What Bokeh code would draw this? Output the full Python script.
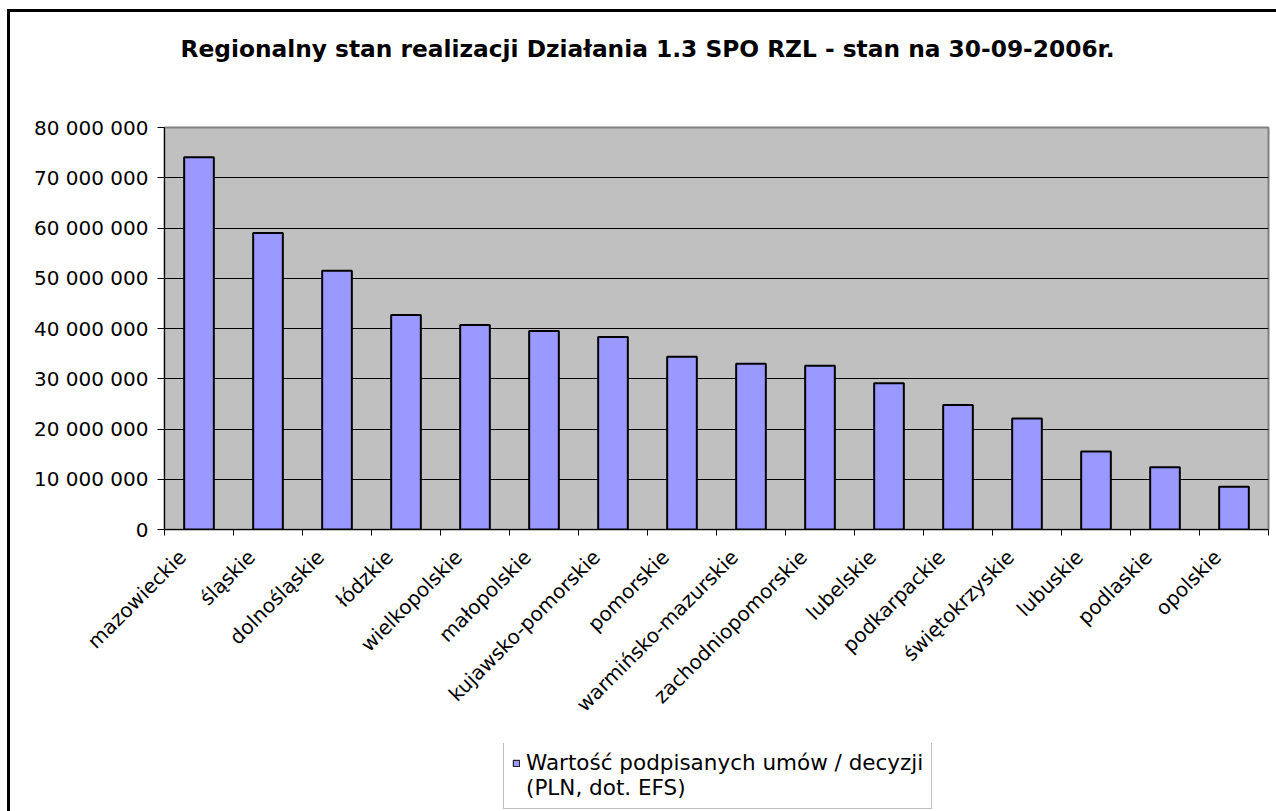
from bokeh.plotting import figure
from bokeh.layouts import column
from bokeh.models import Range1d, FixedTicker, Legend, LegendItem, ColumnDataSource, Title
from bokeh.embed import file_html
from bokeh.resources import INLINE
import math

title_text = "Regionalny stan realizacji Działania 1.3 SPO RZL - stan na 30-09-2006r."

categories = ["mazowieckie", "śląskie", "dolnośląskie", "łódzkie", "wielkopolskie",
              "małopolskie", "kujawsko-pomorskie", "pomorskie", "warmińsko-mazurskie",
              "zachodniopomorskie", "lubelskie", "podkarpackie", "świętokrzyskie",
              "lubuskie", "podlaskie", "opolskie"]

values = [74100000, 59000000, 51500000, 42700000, 40700000, 39500000, 38300000,
          34400000, 33000000, 32600000, 29100000, 24800000, 22100000, 15500000,
          12400000, 8500000]

y_ticks = [0, 10000000, 20000000, 30000000, 40000000, 50000000, 60000000, 70000000, 80000000]
y_tick_labels = ["0", "10 000 000", "20 000 000", "30 000 000", "40 000 000",
                 "50 000 000", "60 000 000", "70 000 000", "80 000 000"]

series_label = ["Wartość podpisanych umów / decyzji", "(PLN, dot. EFS)"]

FONT = "DejaVu Sans"
BAR_COLOR = "#9999FF"

n = len(categories)
centers = [i + 0.5 for i in range(n)]
label_pos = [c - 0.24 for c in centers]
bounds = [float(i) for i in range(n + 1)]

src = ColumnDataSource(dict(x=centers, top=values, name=categories))

# ---------------- main chart ----------------
p = figure(width=1266, height=731, output_backend="svg", toolbar_location=None,
           title=None,
           x_range=Range1d(0, n), y_range=Range1d(y_ticks[0], y_ticks[-1]),
           min_border_left=154, min_border_right=8, min_border_top=115,
           min_border_bottom=214)

p.background_fill_color = "#C0C0C0"
p.border_fill_color = "#FFFFFF"
p.outline_line_color = "#808080"
p.outline_line_width = 2

# spacer between frame and title, then the title itself (further out)
spacer = Title(text=" ", text_font=FONT, text_font_size="55px", standoff=0)
p.add_layout(spacer, "above")
title = Title(text=title_text, text_font=FONT, text_font_style="bold",
              text_font_size="23.3px", text_color="#000000",
              align="left", offset=16, standoff=0)
p.add_layout(title, "above")

bars = p.vbar(x="x", top="top", bottom=0, width=0.43, source=src,
              fill_color=BAR_COLOR, line_color="#000000", line_width=2)

# x axis
xa = p.xaxis[0]
xa.ticker = FixedTicker(ticks=label_pos, minor_ticks=bounds)
xa.major_label_overrides = {c: name for c, name in zip(label_pos, categories)}
xa.major_label_orientation = math.pi / 4
xa.major_tick_line_color = None
xa.major_tick_out = 0
xa.major_tick_in = 0
xa.minor_tick_line_color = "#000000"
xa.minor_tick_out = 6
xa.minor_tick_in = 0
xa.axis_line_color = "#000000"
xa.axis_line_width = 1
xa.major_label_text_font = FONT
xa.major_label_text_font_size = "20px"
xa.major_label_text_color = "#000000"
xa.major_label_standoff = 18

# y axis
ya = p.yaxis[0]
ya.ticker = FixedTicker(ticks=y_ticks)
ya.major_label_overrides = {t: s for t, s in zip(y_ticks, y_tick_labels)}
ya.major_tick_out = 7
ya.major_tick_in = 0
ya.major_tick_line_color = "#000000"
ya.minor_tick_line_color = None
ya.axis_line_color = "#000000"
ya.major_label_text_font = FONT
ya.major_label_text_font_size = "20px"
ya.major_label_text_color = "#000000"
ya.major_label_standoff = 9

p.xgrid.visible = False
p.ygrid.ticker = FixedTicker(ticks=y_ticks)
p.ygrid.grid_line_color = "#000000"
p.ygrid.grid_line_width = 1

# ---------------- legend strip ----------------
# same frame margins as the chart (frames are aligned in a column);
# the renderers here only provide the legend swatches and are hidden
p2 = figure(width=1266, height=68, output_backend="svg", toolbar_location=None,
            title=None, x_axis_type=None, y_axis_type=None,
            x_range=Range1d(n + 1, 2 * n + 1), y_range=Range1d(y_ticks[0], y_ticks[-1]),
            min_border_left=154, min_border_right=8, min_border_top=0,
            min_border_bottom=0)
p2.outline_line_color = None
p2.background_fill_color = "#FFFFFF"
p2.border_fill_color = "#FFFFFF"
p2.xgrid.visible = False
p2.ygrid.visible = False

leg_r1 = p2.vbar(x="x", top="top", bottom=0, width=0.43, source=src,
                 fill_color=BAR_COLOR, line_color="#000000", line_width=1)
leg_r2 = p2.vbar(x="x", top="top", bottom=0, width=0.43, source=src,
                 fill_alpha=0, line_alpha=0)
leg_r1.visible = False
leg_r2.visible = False

legend = Legend(items=[LegendItem(label=series_label[0], renderers=[leg_r1]),
                       LegendItem(label=series_label[1], renderers=[leg_r2])],
                location=(339, 2))
legend.label_text_font = FONT
legend.label_text_font_size = "21.5px"
legend.label_text_color = "#000000"
legend.glyph_width = 8
legend.glyph_height = 8
legend.label_standoff = 6
legend.padding = 8
legend.spacing = 0
legend.margin = 0
legend.border_line_color = "#808080"
legend.border_line_width = 1
legend.background_fill_color = "#FFFFFF"
legend.background_fill_alpha = 1
p2.add_layout(legend, "center")

layout = column(p, p2, spacing=0,
                styles={"margin-left": "7px", "margin-top": "9px",
                        "border-left": "3px solid #000000",
                        "border-top": "3px solid #000000"})

open("out.html", "w").write(file_html(layout, INLINE))
